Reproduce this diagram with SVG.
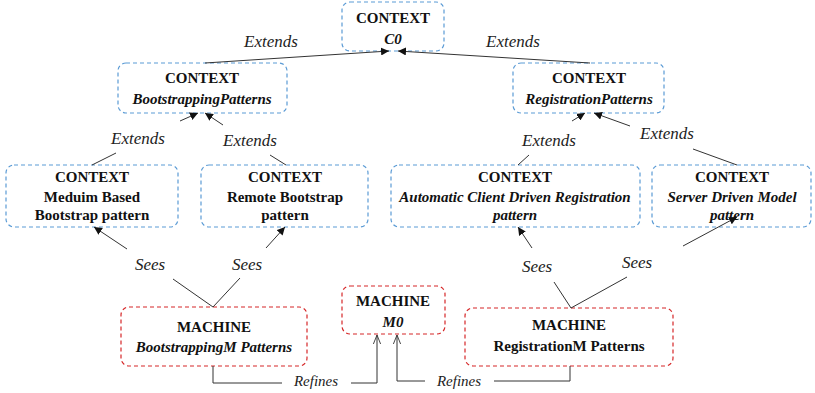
<svg xmlns="http://www.w3.org/2000/svg" width="815" height="393" viewBox="0 0 815 393">
<style>
.ctx{fill:#fff;stroke:#5b9bd5;stroke-width:1.2;stroke-dasharray:4 3}
.mac{fill:#fff;stroke:#d62728;stroke-width:1.2;stroke-dasharray:4 3}
text{font-family:"Liberation Serif","Times New Roman",serif;fill:#111;text-anchor:middle}
.b{font-weight:bold;font-size:15px}
.bi{font-weight:bold;font-style:italic;font-size:15px}
.lbl{font-style:italic;font-size:17px;fill:#222}
.lbl2{font-style:italic;font-size:15px;fill:#222}
.ln{fill:none;stroke:#333;stroke-width:1}
.ar{marker-end:url(#tri)}
.op{marker-end:url(#vee)}
</style>
<defs>
<marker id="tri" viewBox="0 0 10 10" refX="10" refY="5" markerWidth="8" markerHeight="8" markerUnits="userSpaceOnUse" orient="auto">
<path d="M0,0 L10,5 L0,10 z" fill="#111"/>
</marker>
<marker id="vee" viewBox="0 0 10 10" refX="10" refY="5" markerWidth="9" markerHeight="9" markerUnits="userSpaceOnUse" orient="auto">
<path d="M0,1 L10,5 L0,9" fill="none" stroke="#333" stroke-width="1"/>
</marker>
</defs>

<g id="C0">
<rect class="ctx" x="342" y="2" width="102" height="49" rx="8"/>
<text class="b" x="393" y="23">CONTEXT</text>
<text class="bi" x="393" y="44">C0</text>
</g>
<g id="BootstrappingPatterns">
<rect class="ctx" x="118" y="63" width="169" height="50" rx="8"/>
<text class="b" x="202" y="83">CONTEXT</text>
<text class="bi" x="202" y="104">BootstrappingPatterns</text>
</g>
<g id="RegistrationPatterns">
<rect class="ctx" x="513" y="63" width="151" height="50" rx="8"/>
<text class="b" x="589" y="83">CONTEXT</text>
<text class="bi" x="589" y="104">RegistrationPatterns</text>
</g>
<g id="MeduimBased">
<rect class="ctx" x="6" y="165" width="172" height="62" rx="8"/>
<text class="b" x="92" y="182">CONTEXT</text>
<text class="b" x="92" y="202">Meduim Based</text>
<text class="b" x="92" y="220">Bootstrap pattern</text>
</g>
<g id="RemoteBootstrap">
<rect class="ctx" x="201" y="165" width="167" height="62" rx="8"/>
<text class="b" x="285" y="182">CONTEXT</text>
<text class="b" x="285" y="202">Remote Bootstrap</text>
<text class="b" x="285" y="220">pattern</text>
</g>
<g id="AutomaticClient">
<rect class="ctx" x="391" y="165" width="249" height="62" rx="8"/>
<text class="b" x="515" y="182">CONTEXT</text>
<text class="bi" x="515" y="202">Automatic Client Driven Registration</text>
<text class="bi" x="515" y="220">pattern</text>
</g>
<g id="ServerDriven">
<rect class="ctx" x="652" y="165" width="159" height="62" rx="8"/>
<text class="b" x="732" y="182">CONTEXT</text>
<text class="bi" x="732" y="202">Server Driven Model</text>
<text class="bi" x="732" y="220">pattern</text>
</g>
<g id="BootstrappingM">
<rect class="mac" x="121" y="307" width="186" height="59" rx="8"/>
<text class="b" x="214" y="332">MACHINE</text>
<text class="bi" x="214" y="352">BootstrappingM Patterns</text>
</g>
<g id="M0">
<rect class="mac" x="342" y="286" width="103" height="48" rx="8"/>
<text class="b" x="393" y="306">MACHINE</text>
<text class="bi" x="393" y="327">M0</text>
</g>
<g id="RegistrationM">
<rect class="mac" x="465" y="308" width="208" height="58" rx="8"/>
<text class="b" x="569" y="330">MACHINE</text>
<text class="b" x="569" y="351">RegistrationM Patterns</text>
</g>

<g id="connectors">
<line class="ln ar" x1="205" y1="63" x2="389" y2="51"/>
<line class="ln ar" x1="590" y1="63" x2="398" y2="51"/>
<line class="ln" x1="92" y1="165" x2="116" y2="153"/>
<line class="ln ar" x1="180" y1="121" x2="198" y2="113"/>
<line class="ln" x1="286" y1="165" x2="270" y2="155"/>
<line class="ln ar" x1="223" y1="125" x2="205" y2="113"/>
<line class="ln" x1="518" y1="165" x2="529" y2="155"/>
<line class="ln ar" x1="572" y1="121" x2="585" y2="113"/>
<line class="ln" x1="737" y1="165" x2="693" y2="149"/>
<line class="ln ar" x1="630" y1="126" x2="594" y2="113"/>
<line class="ln" x1="213" y1="307" x2="173" y2="279"/>
<line class="ln ar" x1="127" y1="249" x2="94" y2="227"/>
<line class="ln" x1="213" y1="307" x2="240" y2="278"/>
<line class="ln ar" x1="266" y1="248" x2="285" y2="227"/>
<line class="ln" x1="571" y1="308" x2="554" y2="282"/>
<line class="ln ar" x1="532" y1="248" x2="518" y2="227"/>
<line class="ln" x1="571" y1="308" x2="627" y2="277"/>
<line class="ln ar" x1="683" y1="246" x2="737" y2="217"/>
<polyline class="ln" points="213,366 213,383 282,383"/>
<polyline class="ln op" points="351,383 377,383 377,335"/>
<polyline class="ln" points="570,366 570,381 494,381"/>
<polyline class="ln op" points="425,381 397,381 397,335"/>
<text class="lbl" x="271" y="47">Extends</text>
<text class="lbl" x="513" y="47">Extends</text>
<text class="lbl" x="138" y="144">Extends</text>
<text class="lbl" x="250" y="146">Extends</text>
<text class="lbl" x="549" y="146">Extends</text>
<text class="lbl" x="667" y="139">Extends</text>
<text class="lbl" x="150" y="270">Sees</text>
<text class="lbl" x="247" y="270">Sees</text>
<text class="lbl" x="537" y="272">Sees</text>
<text class="lbl" x="637" y="268">Sees</text>
<text class="lbl2" x="316" y="386">Refines</text>
<text class="lbl2" x="459" y="386">Refines</text>
</g>
</svg>
